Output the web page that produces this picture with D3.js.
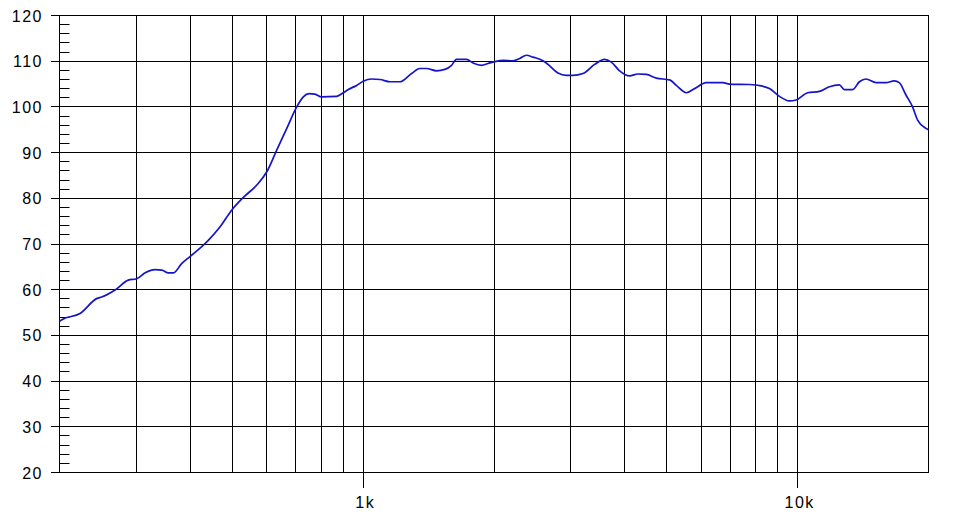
<!DOCTYPE html>
<html>
<head>
<meta charset="utf-8">
<script src="https://cdn.jsdelivr.net/npm/d3@7"></script>
<style>
  body { margin: 0; background: #fff; }
  svg { display: block; }
  .lbl { font-family: "Liberation Sans", Arial, sans-serif; font-size: 16px; letter-spacing: 1.5px; fill: #000; }
</style>
</head>
<body>
<svg width="955" height="516"></svg>
<script>
// frequency response
var freqs = [200, 203, 223, 244, 250, 269, 288, 301, 315, 332, 344, 356, 366, 382, 400, 425, 440, 468, 498, 530,
  569, 600, 632, 667, 703, 728, 751, 774, 802, 869, 900, 924, 966, 1000, 1045, 1093, 1152, 1214, 1292, 1350,
  1398, 1475, 1541, 1597, 1639, 1729, 1790, 1872, 1938, 2008, 2098, 2212, 2292, 2375, 2459, 2593, 2663, 2807, 2935, 3040,
  3204, 3409, 3594, 3724, 3891, 4103, 4288, 4483, 4727, 5073, 5255, 5540, 5789, 6158, 6723, 6966, 7745, 8240, 8610, 9078,
  9566, 9915, 10540, 11220, 11830, 12470, 12810, 13380, 13870, 14360, 15150, 15970, 16690, 17130, 17750, 18380, 18880, 19740, 20000];
var spl = [53.1, 53.5, 54.8, 58.1, 58.4, 60.0, 62.1, 62.4, 63.7, 64.4, 64.3, 63.7, 63.7, 65.7, 67.3, 69.4, 70.8, 73.7, 77.4, 80.2,
  82.9, 85.8, 90.5, 95.3, 100.0, 102.2, 102.9, 102.8, 102.2, 102.3, 103.1, 103.8, 104.7, 105.6, 106.1, 106.0, 105.5, 105.5, 107.3, 108.4,
  108.4, 107.9, 108.2, 109.1, 110.4, 110.4, 109.6, 109.1, 109.5, 109.9, 110.2, 110.1, 110.6, 111.3, 110.9, 110.1, 109.3, 107.4, 106.9, 106.9,
  107.3, 109.3, 110.4, 109.8, 107.9, 106.8, 107.2, 107.1, 106.3, 105.9, 104.7, 103.1, 104.0, 105.3, 105.3, 105.0, 104.9, 104.6, 104.0, 102.3,
  101.3, 101.5, 103.1, 103.4, 104.4, 104.8, 103.8, 103.8, 105.5, 106.1, 105.3, 105.3, 105.7, 105.3, 102.6, 100.0, 97.1, 95.3, 95.0];

var xGrid = [300, 400, 500, 600, 700, 800, 900, 1000, 2000, 3000, 4000, 5000, 6000, 7000, 8000, 9000, 10000];
var xLabelFreqs = [1000, 10000];
var xLabelText = ["1k", "10k"];
var yTicks = [20, 30, 40, 50, 60, 70, 80, 90, 100, 110, 120];
var yMinor = [22, 24, 26, 28, 32, 34, 36, 38, 42, 44, 46, 48, 52, 54, 56, 58, 62, 64, 66, 68, 72, 74, 76, 78,
  82, 84, 86, 88, 92, 94, 96, 98, 102, 104, 106, 108, 112, 114, 116, 118];

var x = d3.scaleLog().domain([200, 20000]).range([59.5, 928.5]);
var y = d3.scaleLinear().domain([20, 120]).range([472.5, 15.5]);

var svg = d3.select("svg");
var px = function(v) { return Math.round(v - 0.5) + 0.5; };

// vertical grid
svg.append("g").selectAll("line")
  .data(xGrid)
  .enter().append("line")
  .attr("x1", function(d) { return px(x(d)); })
  .attr("x2", function(d) { return px(x(d)); })
  .attr("y1", y(120))
  .attr("y2", y(20))
  .attr("stroke", "#000").attr("stroke-width", 1);

// horizontal grid + major ticks sticking out to the left
svg.append("g").selectAll("line")
  .data(yTicks)
  .enter().append("line")
  .attr("x1", 51)
  .attr("x2", x(20000))
  .attr("y1", function(d) { return px(y(d)); })
  .attr("y2", function(d) { return px(y(d)); })
  .attr("stroke", "#000").attr("stroke-width", 1);

// minor ticks inside the left edge
svg.append("g").selectAll("line")
  .data(yMinor)
  .enter().append("line")
  .attr("x1", x(200))
  .attr("x2", x(200) + 10)
  .attr("y1", function(d) { return px(y(d)); })
  .attr("y2", function(d) { return px(y(d)); })
  .attr("stroke", "#000").attr("stroke-width", 1);

// frame
svg.append("rect")
  .attr("x", x(200)).attr("y", y(120))
  .attr("width", x(20000) - x(200)).attr("height", y(20) - y(120))
  .attr("fill", "none").attr("stroke", "#000").attr("stroke-width", 1);

// x ticks below the frame for labelled decades
svg.append("g").selectAll("line")
  .data(xLabelFreqs)
  .enter().append("line")
  .attr("x1", function(d) { return px(x(d)); })
  .attr("x2", function(d) { return px(x(d)); })
  .attr("y1", y(20))
  .attr("y2", 488)
  .attr("stroke", "#000").attr("stroke-width", 1);

svg.append("g").selectAll("text")
  .data(xLabelFreqs)
  .enter().append("text")
  .attr("class", "lbl")
  .attr("x", function(d) { return x(d) + 2; })
  .attr("y", 508)
  .attr("text-anchor", "middle")
  .text(function(d, i) { return xLabelText[i]; });

svg.append("g").selectAll("text")
  .data(yTicks)
  .enter().append("text")
  .attr("class", "lbl")
  .attr("x", 43)
  .attr("y", function(d) { return y(d) + 6; })
  .attr("text-anchor", "end")
  .text(function(d) { return d; });

// response curve
var line = d3.line()
  .x(function(d, i) { return x(freqs[i]); })
  .y(function(d) { return y(d); })
  .curve(d3.curveMonotoneX);

svg.append("path")
  .datum(spl)
  .attr("d", line)
  .attr("fill", "none")
  .attr("stroke", "#1414c8")
  .attr("stroke-width", 1.7)
  .attr("stroke-linejoin", "round");
</script>
</body>
</html>
